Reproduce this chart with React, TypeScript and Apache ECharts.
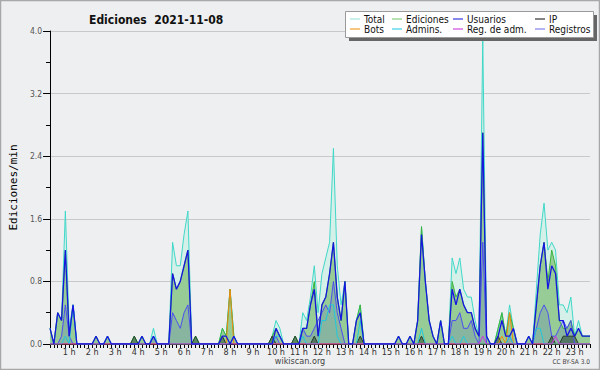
import React, { useEffect, useRef } from "react";
import * as echarts from "echarts";

// 10-minute slots from 00:10 to 23:40
const times: string[] = Array.from({ length: 142 }, (_, i) => {
  const m = (i + 1) * 10;
  const h = Math.floor(m / 60);
  const mm = m % 60;
  return `${String(h).padStart(2, "0")}:${String(mm).padStart(2, "0")}`;
});

// values grouped: 00:10-00:50, then one row per hour
const total = [
  0.2, 0, 0.4, 0.3, 1.7,
  0.2, 0.5, 0, 0, 0, 0,
  0, 0.1, 0, 0, 0.1, 0,
  0, 0, 0, 0, 0, 0.1,
  0, 0.1, 0, 0, 0.2, 0,
  0, 0, 0, 1.3, 1.0, 1.0,
  1.4, 1.7, 0, 0.1, 0, 0,
  0, 0, 0, 0, 0.2, 0.1,
  0.7, 0.1, 0, 0, 0, 0,
  0, 0, 0, 0, 0, 0.1,
  0.3, 0.2, 0, 0, 0, 0.1,
  0, 0.4, 0.3, 0.6, 1.0, 0.4,
  0.9, 1.1, 1.3, 2.5, 1.0, 0.5,
  0.8, 0, 0, 0.3, 0.5, 0,
  0, 0, 0, 0, 0, 0,
  0, 0, 0.1, 0, 0, 0.1,
  0, 0.3, 1.5, 0.8, 0.3, 0.1,
  0, 0.3, 0, 0, 1.1, 0.9,
  1.1, 0.7, 0.6, 0.6, 0.3, 0.1,
  3.9, 0.1, 0, 0, 0.2, 0.4,
  0.1, 0.5, 0.2, 0, 0, 0,
  0.1, 0, 0.7, 1.4, 1.8, 1.2,
  1.3, 1.2, 0.5, 0.5, 0.4, 0.6,
  0.1, 0.3, 0.1, 0.1, 0.1,
];

const ediciones = [
  0.2, 0, 0.4, 0.3, 1.2,
  0.1, 0.5, 0, 0, 0, 0,
  0, 0.1, 0, 0, 0.1, 0,
  0, 0, 0, 0, 0, 0.1,
  0, 0.1, 0, 0, 0.1, 0,
  0, 0, 0, 0.9, 0.7, 0.8,
  1.0, 1.2, 0, 0.1, 0, 0,
  0, 0, 0, 0, 0.2, 0.1,
  0.7, 0.1, 0, 0, 0, 0,
  0, 0, 0, 0, 0, 0.1,
  0.2, 0.1, 0, 0, 0, 0.1,
  0, 0.2, 0.2, 0.5, 0.8, 0.1,
  0.5, 0.6, 0.9, 1.3, 0.6, 0.3,
  0.8, 0, 0, 0.3, 0.5, 0,
  0, 0, 0, 0, 0, 0,
  0, 0, 0.1, 0, 0, 0.1,
  0, 0.3, 1.5, 0.8, 0.3, 0.1,
  0, 0.3, 0, 0, 0.8, 0.6,
  0.7, 0.5, 0.4, 0.4, 0.2, 0.1,
  2.7, 0.1, 0, 0, 0.2, 0.4,
  0.1, 0.4, 0.2, 0, 0, 0,
  0.1, 0, 0.5, 1.0, 1.3, 0.8,
  1.2, 1.0, 0.3, 0.2, 0.2, 0.3,
  0.1, 0.2, 0.1, 0.1, 0.1,
];

const usuarios = [
  0.2, 0, 0.4, 0.3, 1.2,
  0.1, 0.5, 0, 0, 0, 0,
  0, 0.1, 0, 0, 0.1, 0,
  0, 0, 0, 0, 0, 0,
  0, 0.1, 0, 0, 0.1, 0,
  0, 0, 0, 0.9, 0.7, 0.8,
  1.0, 1.2, 0, 0, 0, 0,
  0, 0, 0, 0, 0.1, 0.1,
  0, 0.1, 0, 0, 0, 0,
  0, 0, 0, 0, 0, 0,
  0.2, 0.1, 0, 0, 0, 0,
  0, 0.2, 0.2, 0.5, 0.7, 0.1,
  0.5, 0.6, 0.9, 1.3, 0.6, 0.3,
  0.8, 0, 0, 0.3, 0.4, 0,
  0, 0, 0, 0, 0, 0,
  0, 0, 0.1, 0, 0, 0.1,
  0, 0.3, 1.4, 0.8, 0.3, 0.1,
  0, 0.3, 0, 0, 0.7, 0.5,
  0.7, 0.5, 0.4, 0.4, 0.2, 0.1,
  2.7, 0.1, 0, 0, 0.1, 0.3,
  0.1, 0.1, 0.2, 0, 0, 0,
  0.1, 0, 0.5, 1.0, 1.3, 0.7,
  1.0, 0.9, 0.3, 0.3, 0.1, 0.2,
  0.1, 0.2, 0.1, 0.1, 0.1,
];

const ip = [
  0, 0, 0, 0, 0,
  0, 0, 0, 0, 0, 0,
  0, 0, 0, 0, 0, 0,
  0, 0, 0, 0, 0, 0.1,
  0, 0, 0, 0, 0, 0,
  0, 0, 0, 0, 0, 0,
  0, 0, 0, 0.1, 0, 0,
  0, 0, 0, 0, 0.1, 0,
  0, 0, 0, 0, 0, 0,
  0, 0, 0, 0, 0, 0.1,
  0, 0, 0, 0, 0, 0.1,
  0, 0, 0, 0, 0.1, 0,
  0, 0, 0, 0, 0, 0,
  0, 0, 0, 0, 0.1, 0,
  0, 0, 0, 0, 0, 0,
  0, 0, 0, 0, 0, 0,
  0, 0, 0.1, 0, 0, 0,
  0, 0, 0, 0, 0, 0,
  0, 0, 0, 0, 0, 0,
  0, 0, 0, 0, 0.1, 0,
  0, 0, 0, 0, 0, 0,
  0, 0, 0, 0, 0, 0,
  0.1, 0, 0, 0.1, 0.1, 0.1,
  0.1, 0, 0, 0, 0,
];

const bots = [
  0, 0, 0, 0, 0,
  0, 0, 0, 0, 0, 0,
  0, 0, 0, 0, 0, 0,
  0, 0, 0, 0, 0, 0,
  0, 0, 0, 0, 0, 0,
  0, 0, 0, 0, 0, 0,
  0, 0, 0, 0, 0, 0,
  0, 0, 0, 0, 0, 0,
  0.7, 0, 0, 0, 0, 0,
  0, 0, 0, 0, 0, 0,
  0, 0, 0, 0, 0, 0,
  0, 0, 0, 0, 0, 0,
  0, 0, 0, 0, 0, 0,
  0, 0, 0, 0, 0, 0,
  0, 0, 0, 0, 0, 0,
  0, 0, 0, 0, 0, 0,
  0, 0, 0, 0, 0, 0,
  0, 0, 0, 0, 0, 0,
  0, 0, 0, 0, 0, 0,
  0, 0, 0, 0, 0, 0.1,
  0, 0.4, 0, 0, 0, 0,
  0, 0, 0, 0, 0, 0,
  0, 0, 0, 0, 0, 0,
  0, 0, 0, 0, 0,
];

const admins = [
  0, 0, 0, 0, 0.1,
  0, 0.5, 0, 0, 0, 0,
  0, 0, 0, 0, 0.1, 0,
  0, 0, 0, 0, 0, 0,
  0, 0, 0, 0, 0.1, 0,
  0, 0, 0, 0, 0, 0,
  0, 0, 0, 0, 0, 0,
  0, 0, 0, 0, 0, 0,
  0, 0.1, 0, 0, 0, 0,
  0, 0, 0, 0, 0, 0,
  0.1, 0.1, 0, 0, 0, 0,
  0, 0.1, 0, 0, 0, 0,
  0.3, 0.3, 0.5, 0.5, 0.1, 0,
  0, 0, 0, 0, 0.3, 0,
  0, 0, 0, 0, 0, 0,
  0, 0, 0, 0, 0, 0,
  0, 0, 0.2, 0, 0, 0,
  0, 0, 0, 0, 0.1, 0,
  0, 0.1, 0, 0, 0, 0,
  0, 0, 0, 0, 0, 0,
  0, 0.1, 0, 0, 0, 0,
  0, 0, 0.2, 0.2, 0, 0,
  0, 0, 0, 0, 0, 0,
  0, 0, 0, 0, 0,
];

const regAdm = [
  0, 0, 0, 0, 0,
  0, 0, 0, 0, 0, 0,
  0, 0, 0, 0, 0, 0,
  0, 0, 0, 0, 0, 0,
  0, 0, 0, 0, 0, 0,
  0, 0, 0, 0, 0, 0,
  0, 0, 0, 0, 0, 0,
  0, 0, 0, 0, 0, 0,
  0, 0, 0, 0, 0, 0,
  0, 0, 0, 0, 0, 0,
  0, 0, 0, 0, 0, 0,
  0, 0, 0, 0, 0, 0,
  0, 0, 0, 0, 0, 0,
  0, 0, 0, 0, 0, 0,
  0, 0, 0, 0, 0, 0,
  0, 0, 0, 0, 0, 0,
  0, 0, 0, 0, 0, 0,
  0, 0, 0, 0, 0, 0,
  0, 0, 0, 0, 0, 0,
  0.1, 0, 0, 0, 0, 0,
  0, 0, 0, 0, 0, 0,
  0, 0, 0, 0, 0, 0,
  0, 0.1, 0, 0, 0, 0,
  0, 0, 0, 0, 0,
];

const registros = [
  0, 0, 0, 0.1, 0.5,
  0.1, 0, 0, 0, 0, 0,
  0, 0, 0, 0, 0, 0,
  0, 0, 0, 0, 0, 0,
  0, 0, 0, 0, 0.1, 0,
  0, 0, 0, 0.4, 0.3, 0.2,
  0.4, 0.5, 0, 0, 0, 0,
  0, 0, 0, 0, 0, 0,
  0, 0, 0, 0, 0, 0,
  0, 0, 0, 0, 0, 0,
  0.1, 0, 0, 0, 0, 0,
  0, 0.2, 0.1, 0.1, 0.2, 0.3,
  0.4, 0.5, 0.4, 0.8, 0.4, 0.2,
  0, 0, 0, 0, 0, 0,
  0, 0, 0, 0, 0, 0,
  0, 0, 0, 0, 0, 0,
  0, 0, 0, 0, 0, 0,
  0, 0, 0, 0, 0.3, 0.3,
  0.4, 0.2, 0.2, 0.3, 0.1, 0,
  1.3, 0, 0, 0, 0, 0,
  0, 0.1, 0, 0, 0, 0,
  0, 0, 0.2, 0.4, 0.5, 0.4,
  0.1, 0.1, 0.2, 0.3, 0.2, 0.3,
  0, 0, 0, 0, 0,
];

const legendItems = [
  { name: "Total", color: "#a6e6e0", left: 350, top: 14 },
  { name: "Ediciones", color: "#86cf86", left: 392, top: 14 },
  { name: "Usuarios", color: "#3a3ae0", left: 453, top: 14 },
  { name: "IP", color: "#333333", left: 535, top: 14 },
  { name: "Bots", color: "#f5a030", left: 350, top: 24 },
  { name: "Admins.", color: "#3ad4e4", left: 392, top: 24 },
  { name: "Reg. de adm.", color: "#d048e0", left: 453, top: 24 },
  { name: "Registros", color: "#8080f0", left: 535, top: 24 },
];

const FONT = "'DejaVu Sans Condensed', 'DejaVu Sans', sans-serif";

function line(name: string, data: number[], color: string, width: number, area?: string, z = 2) {
  return {
    type: "line",
    name,
    data,
    symbol: "none",
    showSymbol: false,
    z,
    lineStyle: { color, width },
    itemStyle: { color },
    areaStyle: area ? { color: area, opacity: 1 } : undefined,
    emphasis: { disabled: true },
  };
}

export default function App() {
  const ref = useRef<HTMLDivElement>(null);
  useEffect(() => {
    document.body.style.margin = "0";
    const chart = echarts.init(ref.current!, null, { renderer: "svg" });
    chart.setOption({
      animation: false,
      backgroundColor: "#eeeff0",
      title: {
        text: "Ediciones  2021-11-08",
        left: 84,
        top: 9,
        textStyle: { fontSize: 12, fontWeight: "bold", fontFamily: FONT, color: "#111" },
      },
      legend: legendItems.map((it) => ({
        left: it.left,
        top: it.top,
        z: 10,
        padding: 0,
        icon: "rect",
        itemWidth: 10,
        itemHeight: 1.2,
        itemGap: 0,
        selectedMode: false,
        textStyle: { fontSize: 10, fontFamily: FONT, color: "#111", padding: [0, 0, 0, -1] },
        data: [{ name: it.name, itemStyle: { color: it.color } }],
      })),
      grid: { left: 47, right: 10, top: 31, bottom: 26, containLabel: false },
      xAxis: {
        type: "category",
        data: times,
        boundaryGap: false,
        axisLine: { lineStyle: { color: "#000", width: 1 } },
        axisTick: { interval: 0, length: 4, lineStyle: { color: "#000", width: 1 } },
        axisLabel: {
          interval: (_i: number, v: string) => v.endsWith(":00"),
          formatter: (v: string) => `${parseInt(v, 10)} h`,
          fontSize: 9,
          fontFamily: FONT,
          color: "#333",
          margin: 3,
        },
        splitLine: { show: false },
      },
      yAxis: {
        type: "value",
        min: 0,
        max: 4,
        interval: 0.8,
        name: "Ediciones/min",
        nameLocation: "middle",
        nameGap: 31,
        nameTextStyle: { fontFamily: "'DejaVu Sans Mono', monospace", fontSize: 11, color: "#000" },
        axisLine: { show: true, lineStyle: { color: "#000", width: 1 } },
        axisTick: { show: true, length: 7, lineStyle: { color: "#000" } },
        minorTick: { show: true, splitNumber: 2, length: 4, lineStyle: { color: "#000" } },
        axisLabel: {
          formatter: (v: number) => v.toFixed(1),
          fontSize: 8.5,
          fontFamily: FONT,
          color: "#555",
          margin: 8,
        },
        splitLine: { show: true, lineStyle: { color: "#c9c9c9", width: 1 } },
      },
      series: [
        line("Total", total, "#3fd8c8", 1, "#d5efe9"),
        line("Ediciones", ediciones, "#3cb43c", 1, "#97cc97"),
        line("Registros", registros, "#4e4ef0", 1, "rgba(60,60,210,0.16)"),
        line("IP", ip, "#2a3a2a", 1, "rgba(20,45,25,0.45)"),
        line("Bots", bots, "#f08a10", 1),
        line("Admins.", admins, "#20c8dc", 1),
        line("Reg. de adm.", regAdm, "#d030e0", 1),
        line("Usuarios", usuarios, "#1616e0", 1.3, undefined, 3),
      ],
      graphic: [
        {
          type: "rect",
          z: 0,
          silent: true,
          shape: { x: 0.5, y: 0.5, width: 599, height: 369 },
          style: { fill: "none", stroke: "#a8a8a8", lineWidth: 1.5 },
        },
        {
          type: "rect",
          z: 8,
          silent: true,
          shape: { x: 349, y: 15, width: 248, height: 26 },
          style: { fill: "#666666" },
        },
        {
          type: "rect",
          z: 8,
          silent: true,
          shape: { x: 345.5, y: 11.5, width: 248, height: 26 },
          style: { fill: "#ffffff", stroke: "#9a9a9a", lineWidth: 1 },
        },
        {
          type: "text",
          z: 8,
          silent: true,
          style: {
            text: "wikiscan.org",
            x: 300,
            y: 361,
            align: "center",
            verticalAlign: "middle",
            fontSize: 9,
            fontFamily: FONT,
            fill: "#444",
          },
        },
        {
          type: "text",
          z: 8,
          silent: true,
          style: {
            text: "CC BY-SA 3.0",
            x: 590,
            y: 362,
            align: "right",
            verticalAlign: "middle",
            fontSize: 6.5,
            fontFamily: FONT,
            fill: "#444",
          },
        },
      ],
    });
    return () => chart.dispose();
  }, []);
  return <div ref={ref} style={{ width: 600, height: 370 }} />;
}
